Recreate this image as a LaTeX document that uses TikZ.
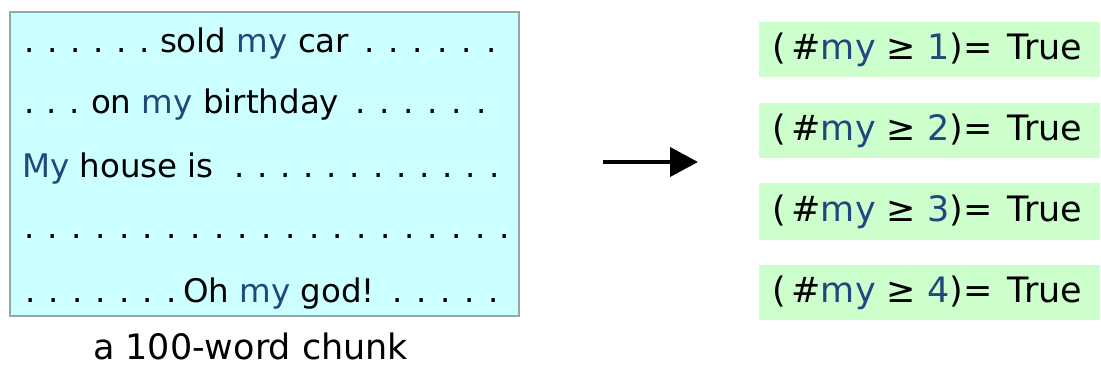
\documentclass[tikz,border=0pt]{standalone}
\usepackage{fontspec}
\setmainfont{DejaVu Sans}
\usetikzlibrary{arrows.meta}
\definecolor{myblue}{HTML}{1F497D}
\definecolor{chunkfill}{HTML}{CCFFFF}
\definecolor{chunkline}{HTML}{8FA9A9}
\definecolor{testfill}{HTML}{CCFFCC}
\newcommand{\mw}{{\color{myblue}my}}
\newcommand{\nb}[1]{{\color{myblue}#1}}
\tikzset{
  x=1pt, y=-1pt,
  txt/.style={inner sep=0pt, outer sep=0pt, anchor=base west, font=\fontsize{32.5}{38}\selectfont},
  captxt/.style={inner sep=0pt, outer sep=0pt, anchor=base west, font=\fontsize{35}{40}\selectfont},
  testtxt/.style={inner sep=0pt, outer sep=0pt, anchor=base west, font=\fontsize{35}{40}\selectfont},
}
\begin{document}
\begin{tikzpicture}
\useasboundingbox (0,0) rectangle (1101,367);

% the text chunk
\fill[chunkfill] (10,12) rectangle (519,316);
\draw[chunkline, line width=1.5pt] (10,12) rectangle (519,316);

% line 1
\node[txt] (l1a) at (24,52) {\makebox[125.5pt][s]{. . . . . .}};
\node[txt] (l1b) at (160,52) {sold \mw{} car};
\node[txt] (l1c) at (364,52) {\makebox[132.5pt][s]{. . . . . .}};
% line 2
\node[txt] (l2a) at (24,113) {\makebox[55.5pt][s]{. . .}};
\node[txt] (l2b) at (91,113) {on \mw{} birthday};
\node[txt] (l2c) at (355,113) {\makebox[131.5pt][s]{. . . . . .}};
% line 3
\node[txt] (l3b) at (22,177) {{\color{myblue}My} house is};
\node[txt] (l3c) at (234,177) {\makebox[265.5pt][s]{. . . . . . . . . . . .}};
% line 4
\node[txt] (l4a) at (24,238) {\makebox[485.5pt][s]{. . . . . . . . . . . . . . . . . . . . .}};
% line 5
\node[txt] (l5a) at (25,302) {\makebox[151.5pt][s]{. . . . . . .}};
\node[txt] (l5b) at (183,302) {Oh \mw{} god!};
\node[txt] (l5c) at (392,302) {\makebox[106.5pt][s]{. . . . .}};

\node[captxt] (caption) at (93,359) {a 100-word chunk};

% arrow
\coordinate (from) at (603,162);
\coordinate (to) at (698,162);
\draw[line width=4pt, -{Triangle[length=28pt,width=29pt]}] (from) -- (to);

% tests
\foreach \k/\top/\bot in {1/22/77, 2/103/158, 3/183/240, 4/265/320}{
  \fill[testfill] (759,\top) rectangle (1100,\bot);
  \node[testtxt] (t\k) at (772,{(\top+\bot)/2+9.5}) {(\kern6pt\#\mw{} ≥ \nb{\k})=\kern4pt{} True};
}
\end{tikzpicture}
\end{document}
